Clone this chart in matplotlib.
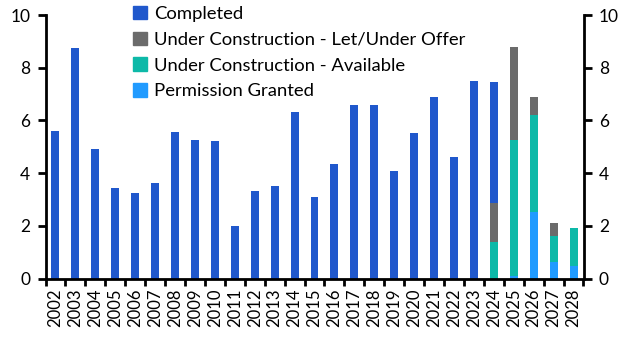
import matplotlib
matplotlib.use("Agg")
import matplotlib.pyplot as plt
import numpy as np
from matplotlib.patches import Patch

plt.rcParams['font.family'] = ['Lato', 'DejaVu Sans']

years = [str(y) for y in range(2002, 2029)]
completed = [5.6, 8.76, 4.92, 3.44, 3.25, 3.63, 5.57, 5.26, 5.23, 2.0, 3.33, 3.52,
             6.33, 3.1, 4.35, 6.6, 6.6, 4.09, 5.53, 6.9, 4.62, 7.5, 4.58, 0, 0, 0, 0]
let_offer = [0]*22 + [1.48, 3.56, 0.68, 0.46, 0]
available = [0]*22 + [1.38, 5.14, 3.66, 1.01, 1.41]
permission = [0]*22 + [0, 0.1, 2.53, 0.62, 0.49]

colors = {
    'Completed': '#2058CC',
    'Under Construction - Let/Under Offer': '#6B6B6B',
    'Under Construction - Available': '#0DB9A8',
    'Permission Granted': '#219BFF',
}

fig = plt.figure(figsize=(6.31, 3.53), dpi=100)
ax = fig.add_axes([45.5/631, 1-278.5/353, 538/631, 263.5/353])

x = np.arange(len(years))
w = 0.4
pg = np.array(permission)
av = np.array(available)
lo = np.array(let_offer)
co = np.array(completed)
ax.bar(x, pg, w, color=colors['Permission Granted'])
ax.bar(x, av, w, bottom=pg, color=colors['Under Construction - Available'])
ax.bar(x, lo, w, bottom=pg+av, color=colors['Under Construction - Let/Under Offer'])
ax.bar(x, co, w, bottom=pg+av+lo, color=colors['Completed'])

ax.set_xlim(-0.5, len(years)-0.5)
ax.set_ylim(0, 10)
ax.set_yticks([0, 2, 4, 6, 8, 10])
ax.set_xticks(x)
ax.set_xticklabels(years, rotation=90, fontsize=12)
ax.set_xticks(np.arange(-0.5, len(years)), minor=True)
ax.tick_params(axis='x', which='major', length=0, pad=7)
ax.tick_params(axis='x', which='minor', length=5, width=2, direction='out')
ax.tick_params(axis='y', length=6, width=2, direction='out', labelsize=12.5, pad=5,
               left=True, right=True, labelleft=True, labelright=True)
ax.spines['top'].set_visible(False)
for s in ['left', 'right', 'bottom']:
    ax.spines[s].set_linewidth(2)

handles = [Patch(color=colors[k]) for k in colors]
fig.legend(handles, list(colors.keys()), loc='upper left',
           bbox_to_anchor=(131/631, 1 - 4/353), frameon=False, fontsize=13.3,
           handlelength=0.75, handleheight=0.75, handletextpad=0.4,
           labelspacing=0.52, borderaxespad=0.0, borderpad=0.1)

fig.savefig('out.png', dpi=100)
